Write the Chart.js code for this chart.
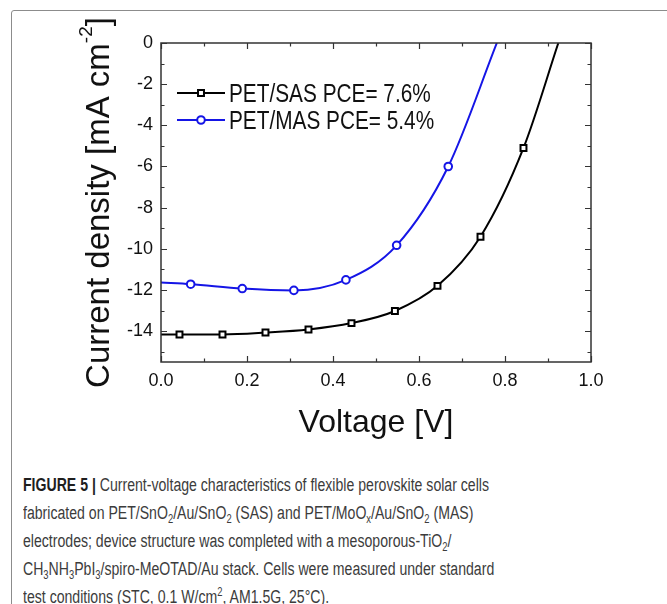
<!DOCTYPE html>
<html>
<head>
<meta charset="utf-8">
<script src="https://cdn.jsdelivr.net/npm/chart.js@4.4.1/dist/chart.umd.min.js"></script>
<style>
html, body { margin: 0; padding: 0; background: #fff; }
body { width: 667px; height: 604px; overflow: hidden; position: relative; font-family: "Liberation Sans", Arial, sans-serif; }
#frame { position: absolute; left: 11px; top: 10px; width: 720px; height: 700px; border: 1.5px solid #8c8c8c; border-radius: 3px; }
#chartWrap { position: absolute; left: 0; top: 0; width: 667px; height: 445px; }
#chartWrap canvas { display: block; }
#caption { position: absolute; left: 23px; top: 471px; font-size: 18px; line-height: 28px; color: #3c3c3c; }
#caption .ln { display: block; height: 28px; white-space: nowrap; transform-origin: 0 0; }
#caption .ln span.t { display: inline-block; }
#caption b { color: #1e1e1e; }
.sb { font-size: 12px; position: relative; top: 4px; }
.sp { font-size: 12px; position: relative; top: -7px; }
</style>
</head>
<body>
<div id="frame"></div>
<div id="chartWrap"><canvas id="jv" width="667" height="445"></canvas></div>
<div id="caption">
  <div class="ln"><span class="t"><b>FIGURE 5 |</b> Current-voltage characteristics of flexible perovskite solar cells</span></div>
  <div class="ln"><span class="t">fabricated on PET/SnO<span class="sb">2</span>/Au/SnO<span class="sb">2</span> (SAS) and PET/MoO<span class="sb">x</span>/Au/SnO<span class="sb">2</span> (MAS)</span></div>
  <div class="ln"><span class="t">electrodes; device structure was completed with a mesoporous-TiO<span class="sb">2</span>/</span></div>
  <div class="ln"><span class="t">CH<span class="sb">3</span>NH<span class="sb">3</span>PbI<span class="sb">3</span>/spiro-MeOTAD/Au stack. Cells were measured under standard</span></div>
  <div class="ln"><span class="t">test conditions (STC, 0.1 W/cm<span class="sp">2</span>, AM1.5G, 25°C).</span></div>
</div>
<script>
// data (V in volts, J in mA cm-2)
const sasVoltage = [0, 0.043, 0.143, 0.243, 0.343, 0.443, 0.544, 0.643, 0.743, 0.843, 0.924];
const sasCurrent = [-14.16, -14.16, -14.16, -14.07, -13.92, -13.61, -13.02, -11.8, -9.41, -5.1, 0];
const masVoltage = [0, 0.069, 0.189, 0.309, 0.43, 0.548, 0.668, 0.781];
const masCurrent = [-11.64, -11.72, -11.93, -12.02, -11.51, -9.83, -6.0, 0];
const seriesLabels = ['PET/SAS PCE= 7.6%', 'PET/MAS PCE= 5.4%'];

const xTickValues = [0, 0.2, 0.4, 0.6, 0.8, 1.0];
const xTickLabels = ['0.0', '0.2', '0.4', '0.6', '0.8', '1.0'];
const xMinorValues = [0.1, 0.3, 0.5, 0.7, 0.9];
const yTickValues = [0, -2, -4, -6, -8, -10, -12, -14];
const yTickLabels = ['0', '-2', '-4', '-6', '-8', '-10', '-12', '-14'];
const yMinorValues = [-1, -3, -5, -7, -9, -11, -13, -15];

const FONT = '"Liberation Sans", Arial, sans-serif';

function toPoints(xs, ys) {
    return xs.map((v, i) => ({ x: v, y: ys[i] }));
}
// markers only on measured points, not on the curve ends
function markerSizes(xs, r) {
    return xs.map((v, i) => (i === 0 || i === xs.length - 1) ? 0 : r);
}

// frame + inward ticks on all four sides
const frameTicks = {
    id: 'frameTicks',
    afterDatasetsDraw(chart) {
        const { ctx, chartArea: a, scales } = chart;
        const xs = scales.x, ys = scales.y;
        ctx.save();
        ctx.strokeStyle = '#333';
        ctx.lineWidth = 1.5;
        ctx.strokeRect(a.left, a.top, a.right - a.left, a.bottom - a.top);
        ctx.lineWidth = 1.2;
        ctx.beginPath();
        const xt = (vals, len) => vals.forEach(v => {
            const px = Math.round(xs.getPixelForValue(v)) + 0.5;
            ctx.moveTo(px, a.bottom); ctx.lineTo(px, a.bottom - len);
            ctx.moveTo(px, a.top); ctx.lineTo(px, a.top + len);
        });
        const yt = (vals, len) => vals.forEach(v => {
            const py = Math.round(ys.getPixelForValue(v)) + 0.5;
            ctx.moveTo(a.left, py); ctx.lineTo(a.left + len, py);
            ctx.moveTo(a.right, py); ctx.lineTo(a.right - len, py);
        });
        xt(xTickValues, 6); xt(xMinorValues, 3.5);
        yt(yTickValues, 6); yt(yMinorValues, 3.5);
        ctx.stroke();
        ctx.restore();
    }
};

// axis titles and the boxed-in legend
const labelsAndLegend = {
    id: 'labelsAndLegend',
    afterDraw(chart) {
        const { ctx, chartArea: a } = chart;
        ctx.save();
        ctx.fillStyle = '#111';

        // x title
        ctx.font = `32px ${FONT}`;
        ctx.textAlign = 'center';
        ctx.textBaseline = 'alphabetic';
        ctx.fillText('Voltage [V]', (a.left + a.right) / 2, a.bottom + 70);

        // y title with superscript
        const main = 'Current density [mA cm', sup = '-2', end = ']';
        ctx.font = `33px ${FONT}`;
        const w1 = ctx.measureText(main).width, w3 = ctx.measureText(end).width;
        ctx.font = `19px ${FONT}`;
        const w2 = ctx.measureText(sup).width;
        ctx.translate(109, (a.top + a.bottom) / 2);
        ctx.rotate(-Math.PI / 2);
        ctx.textAlign = 'left';
        let x0 = -(w1 + w2 + w3) / 2;
        ctx.font = `33px ${FONT}`;
        ctx.fillText(main, x0, 0);
        ctx.font = `19px ${FONT}`;
        ctx.fillText(sup, x0 + w1, -17);
        ctx.font = `33px ${FONT}`;
        ctx.fillText(end, x0 + w1 + w2, 0);
        ctx.setTransform(1, 0, 0, 1, 0, 0);

        // legend
        chart.data.datasets.forEach((ds, i) => {
            const y = a.top + 50 + i * 27;
            ctx.strokeStyle = ds.borderColor;
            ctx.lineWidth = 2;
            ctx.beginPath();
            ctx.moveTo(177, y); ctx.lineTo(225, y);
            ctx.stroke();
            ctx.fillStyle = '#fff';
            ctx.strokeStyle = ds.pointBorderColor;
            ctx.lineWidth = ds.pointBorderWidth;
            Chart.helpers.drawPoint(ctx, { pointStyle: ds.pointStyle, radius: ds.legendRadius, rotation: 0, borderWidth: ds.pointBorderWidth }, 201, y);
            ctx.fillStyle = '#111';
            ctx.font = `26px ${FONT}`;
            ctx.save();
            ctx.translate(229, y + 9.3);
            ctx.scale(0.8, 1);
            ctx.fillText(ds.label, 0, 0);
            ctx.restore();
        });
        ctx.restore();
    }
};

const tickFont = { size: 18, family: FONT };

new Chart(document.getElementById('jv').getContext('2d'), {
    type: 'line',
    data: {
        datasets: [
            {
                label: seriesLabels[0],
                data: toPoints(sasVoltage, sasCurrent),
                borderColor: '#000',
                borderWidth: 2,
                cubicInterpolationMode: 'monotone',
                pointStyle: 'rect',
                pointRadius: markerSizes(sasVoltage, 4.2),
                legendRadius: 4.2,
                pointBackgroundColor: '#fff',
                pointBorderColor: '#000',
                pointBorderWidth: 2,
                fill: false
            },
            {
                label: seriesLabels[1],
                data: toPoints(masVoltage, masCurrent),
                borderColor: '#1515e6',
                borderWidth: 2,
                cubicInterpolationMode: 'monotone',
                pointStyle: 'circle',
                pointRadius: markerSizes(masVoltage, 3.8),
                legendRadius: 3.8,
                pointBackgroundColor: '#fff',
                pointBorderColor: '#1515e6',
                pointBorderWidth: 2,
                fill: false
            }
        ]
    },
    options: {
        responsive: false,
        animation: false,
        layout: { padding: { top: 43, right: 76, left: 0, bottom: 0 } },
        scales: {
            x: {
                type: 'linear', min: 0, max: 1,
                grid: { display: false, drawTicks: false }, border: { display: false },
                afterBuildTicks: (s) => { s.ticks = xTickValues.map(v => ({ value: v })); },
                afterFit: (s) => { s.height = 83; },
                ticks: { font: tickFont, color: '#111', padding: 8, maxRotation: 0, autoSkip: false,
                    callback: (v, i) => xTickLabels[i] }
            },
            y: {
                type: 'linear', min: -15.5, max: 0,
                grid: { display: false, drawTicks: false }, border: { display: false },
                afterBuildTicks: (s) => { s.ticks = yTickValues.map(v => ({ value: v })); },
                afterFit: (s) => { s.width = 161; },
                ticks: { font: tickFont, color: '#111', padding: 8, autoSkip: false,
                    callback: (v, i) => yTickLabels[i] }
            }
        },
        plugins: { legend: { display: false }, tooltip: { enabled: false } }
    },
    plugins: [frameTicks, labelsAndLegend]
});

// the caption in the source is set in a condensed face: squeeze lines to match
const lines = document.querySelectorAll('#caption .ln');
const w0 = lines[0].querySelector('.t').getBoundingClientRect().width;
const squeeze = 466 / w0;
lines.forEach(l => { l.style.transform = `scaleX(${squeeze})`; });
</script>
</body>
</html>
